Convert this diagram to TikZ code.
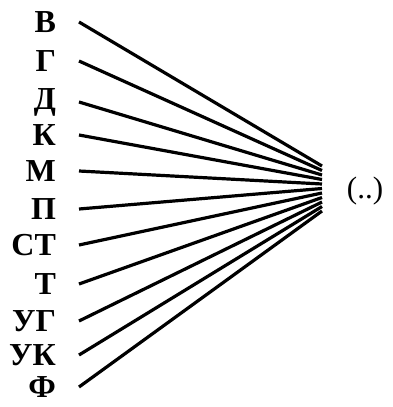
\documentclass[tikz,border=0pt]{standalone}
\usepackage{fontspec}
\setmainfont{Liberation Serif}
\usetikzlibrary{positioning}

\begin{document}
\begin{tikzpicture}[x=1pt,y=-1pt,font=\fontsize{32}{32}\selectfont\bfseries,line width=3.2pt]
  \useasboundingbox (0,0) rectangle (392,407);
  % labels on the left, one line each to the common end
  \foreach \lbl/\yy [count=\i] in {В/22,Г/61,Д/102,К/135,М/171,П/209,СТ/245,Т/284,УГ/321,УК/355,Ф/387} {
    \node[anchor=east,inner sep=0pt] (l\i) at (57.5,\yy) {\lbl};
    \coordinate (e\i) at (322,{161.5+4.5*\i});
    \draw ([xshift=21.5]l\i.east) -- (e\i);
  }
  \node[inner sep=0pt,font=\fontsize{31}{31}\selectfont] (res) at (365,191) {(..)};
\end{tikzpicture}
\end{document}
